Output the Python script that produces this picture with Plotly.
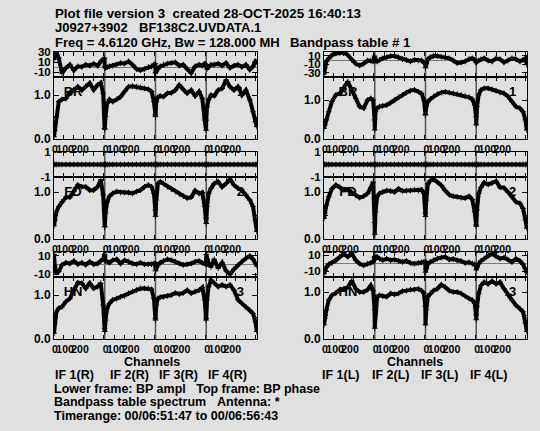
import plotly.graph_objects as go

W, H = 540, 431
BG = "#e0e0e0"
FONT = "Liberation Sans, Arial, sans-serif"

# ---------------- data ----------------
N_CH = 256
CH = [0, 4, 12, 24, 40, 60, 80, 100, 120, 140, 160, 180, 200, 220, 236, 248, 255]
TICK_TEXT = ["0", "100", "200"]
IF_LABELS_R = ["IF 1(R)", "IF 2(R)", "IF 3(R)", "IF 4(R)"]
IF_LABELS_L = ["IF 1(L)", "IF 2(L)", "IF 3(L)", "IF 4(L)"]
ANTENNAS = ["BR", "FD", "HN"]
ANT_NUMBERS = ["1", "2", "3"]

amp_BR_R = [
    [0.05, 0.20, 0.51, 0.85, 0.90, 0.92, 1.05, 1.11, 1.19, 1.11, 1.20, 1.27, 1.12, 1.23, 1.28, 1.04, 0.24],
    [0.22, 0.51, 0.81, 0.90, 0.85, 0.90, 0.96, 1.08, 1.19, 1.20, 1.19, 1.17, 1.15, 1.13, 1.08, 0.85, 0.55],
    [0.51, 0.85, 0.95, 0.98, 0.96, 1.04, 1.05, 1.11, 1.23, 1.13, 1.04, 1.11, 0.98, 1.08, 0.92, 0.43, 0.20],
    [0.43, 0.73, 0.89, 1.00, 0.98, 1.11, 1.15, 1.34, 1.19, 1.11, 1.19, 1.00, 1.11, 0.89, 0.62, 0.39, 0.28],
]
phase_BR_R = [
    [14.7, 28, 29.3, 18, -12, -2, 4.7, -6.7, 1.3, 0, 4.7, 2.7, 6.7, 2.7, 11.3, 14.7, 18],
    [1.3, -2, 0, 1.3, 2.7, 4.7, 8, 6.7, 11.3, 4.7, -4, -6.7, -4, 0, 1.3, 4.7, 6.7],
    [-12, -8.7, -4, 1.3, 4.7, 6.7, 8, 9.3, 2.7, 4.7, -4, -12, 1.3, 4.7, 2.7, 6.7, 4.7],
    [1.3, -4, 0, 4.7, 4.7, 6.7, 2.7, 8, -2, 2.7, 4.7, 0, 4.7, -5.3, 1.3, 11.3, 9.3],
]
amp_BR_L = [
    [0.27, 0.36, 0.49, 0.70, 0.96, 1.13, 1.17, 1.30, 1.47, 1.26, 1.04, 0.83, 0.79, 1.00, 1.04, 1.00, 0.49],
    [0.23, 0.70, 0.79, 0.83, 0.85, 0.87, 0.93, 1.00, 1.07, 1.13, 1.19, 1.24, 1.26, 1.21, 1.17, 1.00, 0.62],
    [0.62, 0.83, 0.96, 1.02, 1.09, 1.15, 1.19, 1.21, 1.19, 1.17, 1.15, 1.13, 1.10, 1.07, 1.02, 0.87, 0.57],
    [0.36, 0.83, 1.13, 1.26, 1.30, 1.30, 1.27, 1.24, 1.19, 1.17, 1.09, 0.96, 0.83, 0.79, 0.70, 0.49, 0.23],
]
phase_BR_L = [
    [-33, -18, -3, 4.5, 12, 15.8, 17.3, 18.5, 12, 0.8, -8.3, -12.8, -8.3, -0.8, -0.8, -3, 9.8],
    [4.5, -0.8, -3, 0.8, 4.5, 6.8, 9.8, 9.8, 6.8, 2.3, 0.8, -3, 0.8, -0.8, -0.8, -5.3, -8.3],
    [-18, -6.8, 2.3, 6.8, 9.8, 9.8, 8.3, 6.8, 4.5, -0.8, -6.8, -5.3, -3, 2.3, 4.5, 0.8, -3],
    [-5.3, -3, -0.8, 2.3, 4.5, -0.8, -3, 4.5, 2.3, -5.3, -0.8, 4.5, 2.3, -3, 0.8, 4.5, -10.5],
]
amp_FD_R = [
    [0.28, 0.40, 0.58, 0.69, 0.79, 0.89, 0.89, 1.01, 1.15, 1.11, 1.11, 1.04, 1.04, 1.11, 1.26, 0.94, 0.26],
    [0.26, 0.55, 0.79, 0.91, 0.97, 1.01, 0.99, 0.99, 0.99, 0.97, 1.01, 1.04, 1.11, 1.15, 1.11, 0.97, 0.62],
    [0.48, 0.83, 1.18, 1.22, 1.18, 1.11, 1.06, 1.01, 0.96, 0.91, 0.87, 0.89, 1.03, 0.97, 0.99, 0.69, 0.44],
    [0.33, 0.69, 0.97, 1.08, 1.18, 1.22, 1.11, 1.18, 1.27, 1.15, 1.08, 1.04, 0.94, 0.83, 0.69, 0.40, 0.16],
]
phase_FD_R = [
    [0, 0, 0, 0, 0, 0, 0, 0, 0, 0, 0, 0, 0, 0, 0, 0, 0],
    [0, 0, 0, 0, 0, 0, 0, 0, 0, 0, 0, 0, 0, 0, 0, 0, 0],
    [0, 0, 0, 0, 0, 0, 0, 0, 0, 0, 0, 0, 0, 0, 0, 0, 0],
    [0, 0, 0, 0, 0, 0, 0, 0, 0, 0, 0, 0, 0, 0, 0, 0, 0],
]
amp_FD_L = [
    [0.44, 0.55, 0.72, 0.90, 1.07, 1.15, 1.10, 1.05, 1.05, 1.00, 0.93, 0.88, 0.91, 0.97, 1.10, 1.21, 0.35],
    [0.10, 0.58, 0.90, 0.97, 1.00, 1.03, 1.02, 1.00, 1.07, 1.02, 1.03, 1.03, 1.05, 1.03, 1.05, 0.97, 0.55],
    [0.48, 0.83, 1.17, 1.24, 1.27, 1.21, 1.14, 1.03, 0.94, 0.91, 0.90, 0.88, 0.87, 0.91, 0.84, 0.58, 0.30],
    [0.27, 0.62, 0.97, 1.10, 1.20, 1.16, 1.19, 1.23, 1.10, 1.09, 1.00, 0.90, 0.79, 0.76, 0.65, 0.41, 0.23],
]
phase_FD_L = [
    [0, 0, 0, 0, 0, 0, 0, 0, 0, 0, 0, 0, 0, 0, 0, 0, 0],
    [0, 0, 0, 0, 0, 0, 0, 0, 0, 0, 0, 0, 0, 0, 0, 0, 0],
    [0, 0, 0, 0, 0, 0, 0, 0, 0, 0, 0, 0, 0, 0, 0, 0, 0],
    [0, 0, 0, 0, 0, 0, 0, 0, 0, 0, 0, 0, 0, 0, 0, 0, 0],
]
amp_HN_R = [
    [0.13, 0.36, 0.62, 0.70, 0.73, 0.85, 0.92, 1.11, 1.28, 1.27, 1.15, 1.27, 1.15, 1.19, 1.27, 0.77, 0.24],
    [0.17, 0.43, 0.70, 0.81, 0.89, 0.92, 0.96, 0.98, 1.04, 1.08, 1.11, 1.15, 1.15, 1.15, 1.13, 0.92, 0.47],
    [0.43, 0.77, 0.92, 0.95, 0.96, 0.98, 1.00, 1.05, 1.02, 1.05, 1.11, 1.04, 1.08, 1.11, 1.17, 0.89, 0.43],
    [0.47, 0.89, 1.19, 1.34, 1.27, 1.19, 1.23, 1.19, 1.23, 1.11, 0.89, 0.81, 0.73, 0.66, 0.58, 0.39, 0.17],
]
phase_HN_R = [
    [11.6, -1.1, -8.4, -7.3, 0, 2.5, 1.5, 4.4, 0.7, 2.5, 0, 3.6, 0.7, 1.5, 4.4, 6.2, 11.6],
    [9.8, 4.4, 3.6, 2.5, 5.1, 6.2, 1.5, 5.1, 3.6, 1.5, 0.7, 2.5, 0.7, 0.7, 0.7, 1.5, 1.5],
    [-6.5, -2.9, 0, 2.5, 4.4, 6.2, 5.1, 3.6, 1.5, 0, 0.7, 1.5, 3.6, 4.4, 2.2, 1.5, 0.7],
    [11.6, 6.2, 1.5, -2.2, 6.2, -3.6, 2.5, -6.5, -10.2, -4.7, 0, 3.6, 7.3, 9.8, 6.2, 2.5, -1.1],
]
amp_HN_L = [
    [0.30, 0.44, 0.62, 0.83, 0.93, 0.98, 1.05, 1.07, 1.10, 1.24, 1.07, 1.00, 1.00, 1.05, 1.14, 1.03, 0.62],
    [0.23, 0.58, 0.90, 0.93, 0.91, 0.90, 0.97, 0.95, 0.97, 1.02, 1.03, 1.05, 1.05, 1.07, 1.03, 0.97, 0.69],
    [0.30, 0.62, 0.90, 0.97, 1.03, 1.07, 1.16, 1.10, 1.03, 1.00, 1.00, 0.97, 0.91, 0.86, 0.83, 0.76, 0.51],
    [0.41, 0.69, 0.97, 1.14, 1.21, 1.17, 1.23, 1.17, 1.21, 1.07, 0.93, 0.83, 0.72, 0.65, 0.58, 0.34, 0.16],
]
phase_HN_L = [
    [-13.6, -9.4, -5.1, -1.7, 0, 3.4, 7.7, 11.1, 7.7, 11.9, 3.4, -0.9, -3.0, -0.9, 0, 1.3, 7.7],
    [7.7, 5.5, 7.7, 5.5, 3.4, 5.5, 3.4, 4.3, 2.6, 1.3, 2.6, 0, -0.9, 0, 0.9, 1.7, 1.3],
    [-11.5, -7.2, -0.9, 1.3, 3.4, 5.5, 6.8, 7.7, 4.3, 5.1, 3.4, 2.6, 0, 0.9, -0.9, -1.7, -3],
    [-8.5, -5.1, -0.9, 2.6, 5.5, 9.8, 11.9, 8.5, 5.5, 6.8, 4.3, 1.3, 5.5, 2.6, -1.7, -7.2, -11.5],
]

# ---------------- layout geometry (pixels) ----------------
def px_x(p):
    return p / W

def px_y(p):
    return 1 - p / H

COL_X = [(54, 257), (324, 527)]
ROW_Y = [(52, 77, 139), (152, 177, 239), (252, 277, 339)]  # top, divider, bottom

PANELS = [
    (0, 0, amp_BR_R, phase_BR_R, [-20, 30], [30, 10, -10], [0, 1.41]),
    (0, 1, amp_BR_L, phase_BR_L, [-40, 19.5], [10, -10, -30], [0, 1.59]),
    (1, 0, amp_FD_R, phase_FD_R, [-1, 1], [1, -1], [0, 1.32]),
    (1, 1, amp_FD_L, phase_FD_L, [-1, 1], [1, -1], [0, 1.32]),
    (2, 0, amp_HN_R, phase_HN_R, [-13.3, 14.2], [10, -10], [0, 1.41]),
    (2, 1, amp_HN_L, phase_HN_L, [-17.5, 13.75], [10, -10], [0, 1.32]),
]

LABEL_POS = [5, 56, 131]      # visual positions of the AIPS tick labels (channels)
MINOR_POS = [50, 100, 150, 200, 250]

fig = go.Figure()
layout = dict(
    template="none",
    width=W, height=H, autosize=False,
    margin=dict(l=0, r=0, t=0, b=0, pad=0),
    paper_bgcolor=BG, plot_bgcolor=BG,
    showlegend=False,
    font=dict(family=FONT, size=12, color="black", weight="bold"),
)

def suffix(k):
    return "" if k == 1 else str(k)

shapes = []
annotations = []
xmax = 4 * N_CH

for p, (row, col, amp, phase, prange, pticks, arange) in enumerate(PANELS):
    kp = 2 * p + 1
    ka = 2 * p + 2
    x0, x1 = COL_X[col]
    top, mid, bot = ROW_Y[row]
    xdom = [px_x(x0), px_x(x1)]

    xs, ya, yp = [], [], []
    for i in range(4):
        for j, c in enumerate(CH):
            xs.append(i * N_CH + c)
            ya.append(amp[i][j])
            yp.append(phase[i][j])

    minor_vals = [i * N_CH + m for i in range(4) for m in MINOR_POS]
    common_x = dict(
        domain=xdom, range=[0, xmax], showgrid=False, zeroline=False,
        showline=True, linecolor="black", linewidth=1, mirror="ticks",
        ticks="", fixedrange=True, automargin=False,
        minor=dict(tickvals=minor_vals, ticks="inside", ticklen=4,
                   tickcolor="black", showgrid=False),
    )
    layout["xaxis" + suffix(kp)] = dict(common_x, anchor="y" + suffix(kp),
                                        showticklabels=False)
    layout["xaxis" + suffix(ka)] = dict(
        common_x, anchor="y" + suffix(ka), showticklabels=True,
        tickmode="array",
        tickvals=[i * N_CH + v for i in range(4) for v in LABEL_POS],
        ticktext=TICK_TEXT * 4, tickangle=0,
        tickfont=dict(size=10.5, family=FONT, weight="bold", color="black"),
    )
    layout["yaxis" + suffix(kp)] = dict(
        domain=[px_y(mid), px_y(top)], anchor="x" + suffix(kp),
        range=prange, tickmode="array", tickvals=pticks,
        ticktext=[str(t) for t in pticks],
        ticks="inside", ticklen=5, tickcolor="black",
        showline=True, linecolor="black", mirror="ticks",
        showgrid=False, zeroline=True, zerolinecolor="#7a7a7a", zerolinewidth=1,
        tickfont=dict(size=11.5, family=FONT, weight="bold", color="black"),
        fixedrange=True, automargin=False,
    )
    layout["yaxis" + suffix(ka)] = dict(
        domain=[px_y(bot), px_y(mid)], anchor="x" + suffix(ka),
        range=arange, tickmode="array", tickvals=[0, 1.0],
        ticktext=["0.0", "1.0"],
        ticks="inside", ticklen=5, tickcolor="black",
        minor=dict(tickvals=[0.5], ticks="inside", ticklen=4, tickcolor="black"),
        showline=True, linecolor="black", mirror="ticks",
        showgrid=False, zeroline=False,
        tickfont=dict(size=12, family=FONT, weight="bold", color="black"),
        fixedrange=True, automargin=False,
    )

    for i in range(1, 4):
        shapes.append(dict(type="line", xref="x" + suffix(ka), yref="paper",
                           x0=i * N_CH, x1=i * N_CH,
                           y0=px_y(bot), y1=px_y(top),
                           line=dict(color="#555555", width=1.5), layer="below"))

    name_x = 96 if col == 0 else 121
    num_x = 3 * N_CH + (172 if col == 0 else 183)
    ylab = arange[1] * 46.0 / (bot - mid)
    fig.add_trace(go.Scatter(
        x=[name_x, num_x], y=[ylab, ylab], mode="text",
        text=[ANTENNAS[row], ANT_NUMBERS[row]],
        textfont=dict(size=13, family=FONT, weight="bold", color="black"),
        xaxis="x" + suffix(ka), yaxis="y" + suffix(ka), hoverinfo="skip",
    ))

    line_style = dict(color="black", width=4)
    mk = dict(symbol="cross-thin", size=4, line=dict(color="black", width=1))
    fig.add_trace(go.Scatter(x=xs, y=yp, mode="lines+markers", line=line_style,
                             marker=mk, cliponaxis=True,
                             xaxis="x" + suffix(kp), yaxis="y" + suffix(kp)))
    fig.add_trace(go.Scatter(x=xs, y=ya, mode="lines+markers", line=line_style,
                             marker=mk, cliponaxis=True,
                             xaxis="x" + suffix(ka), yaxis="y" + suffix(ka)))

NB = "\u00a0"

def text_ann(txt, x, y, anchor="left", size=13):
    annotations.append(dict(
        text=txt.replace("  ", NB + NB), x=px_x(x), y=px_y(y),
        xref="paper", yref="paper", xanchor=anchor, yanchor="middle",
        showarrow=False,
        font=dict(size=size, family=FONT, weight="bold", color="black"),
    ))

text_ann("Plot file version 3  created 28-OCT-2025 16:40:13", 53, 14, size=13.3)
text_ann("J0927+3902", 53, 28)
text_ann("BF138C2.UVDATA.1", 137, 28)
text_ann("Freq = 4.6120 GHz, Bw = 128.000 MH", 53, 42)
text_ann("Bandpass table # 1", 288, 42, size=13.3)
text_ann("Channels", 152, 362, "center", 12.5)
text_ann("Channels", 415, 362, "center", 12.5)
for lab, cx in zip(IF_LABELS_R, [74, 129, 178, 227]):
    text_ann(lab, cx, 375, "center", 12.5)
for lab, cx in zip(IF_LABELS_L, [341, 391, 440, 489]):
    text_ann(lab, cx, 375, "center", 12.5)
text_ann("Lower frame: BP ampl   Top frame: BP phase", 52, 389, size=12.5)
text_ann("Bandpass table spectrum", 52, 402, size=12.5)
text_ann("Antenna: *", 215, 402, size=12.5)
text_ann("Timerange: 00/06:51:47 to 00/06:56:43", 52, 416, size=12.5)

layout["shapes"] = shapes
layout["annotations"] = annotations
fig.update_layout(**layout)
fig.write_html(
    "out.html",
    config={"displayModeBar": False, "staticPlot": True},
    post_script="document.body.style.margin='0';document.body.style.overflow='hidden';",
)
